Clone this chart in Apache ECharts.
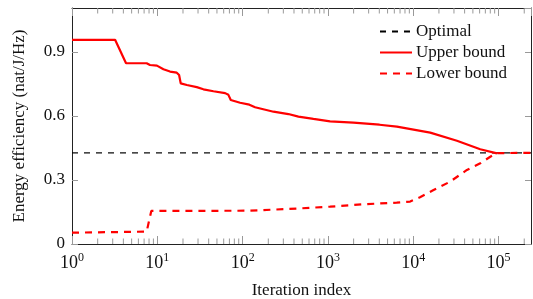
<!DOCTYPE html>
<html>
<head>
<meta charset="utf-8">
<script src="https://cdn.jsdelivr.net/npm/echarts@6/dist/echarts.min.js"></script>
<style>
  html, body { margin: 0; padding: 0; background: #fff; }
  #chart { width: 533px; height: 299px; }
</style>
</head>
<body>
<div id="chart"></div>
<script>
// axis ranges and ticks
const xMin = 1;
const xMax = 240000;
const yMin = 0;
const yMax = 1.106;
const yTicks = [0, 0.3, 0.6, 0.9];
const xDecades = [0, 1, 2, 3, 4, 5];

// optimal value
const optimalEE = 0.427;

// upper bound (iteration, energy efficiency)
const upperIter = [1, 3.2, 4.3, 7.5, 8.2, 9.9, 11.8, 14.1, 16.9, 18.0, 18.8, 22.2, 29, 34.7, 45.5, 62.3, 68.1, 72.6, 93.4, 120, 140, 230, 344, 451, 676, 1060, 1990, 4020, 6430, 15800, 32500, 61000, 95800];
const upperEE = [0.957, 0.957, 0.847, 0.847, 0.839, 0.836, 0.819, 0.808, 0.803, 0.792, 0.753, 0.745, 0.735, 0.725, 0.716, 0.707, 0.699, 0.675, 0.662, 0.653, 0.641, 0.620, 0.609, 0.597, 0.586, 0.575, 0.569, 0.559, 0.550, 0.522, 0.484, 0.444, 0.425];

// lower bound
const lowerIter = [1, 7.5, 8.5, 120, 430, 1060, 2600, 6400, 9200, 12000, 17300, 27000, 42600, 61000, 80000, 95000, 240000];
const lowerEE = [0.053, 0.058, 0.155, 0.156, 0.166, 0.175, 0.186, 0.194, 0.199, 0.219, 0.253, 0.292, 0.347, 0.378, 0.409, 0.426, 0.427];

const font = '"Liberation Serif", "Times New Roman", serif';

// minor tick positions on the log axis (2..9 x 10^n)
const minorTicks = [];
xDecades.forEach(p => {
  for (let k = 2; k <= 9; k++) {
    const v = k * Math.pow(10, p);
    if (v < xMax) minorTicks.push([v, 0]);
  }
});

const zip = (a, b) => a.map((v, i) => [v, b[i]]);

const chart = echarts.init(document.getElementById("chart"));

const xAxisBase = {
  type: "log",
  logBase: 10,
  min: xMin,
  max: xMax,
  splitLine: { show: false },
  axisLine: { onZero: false, lineStyle: { color: "#222", width: 1 } },
  axisTick: { inside: true, length: 8, lineStyle: { color: "#999" } },
  minorTick: { show: false }
};

const yAxisBase = {
  type: "value",
  min: yMin,
  max: yMax,
  interval: 0.3,
  splitLine: { show: false },
  axisLine: { show: true, lineStyle: { color: "#222", width: 1 } },
  axisTick: { inside: true, length: 6, lineStyle: { color: "#999" } }
};

chart.setOption({
  animation: false,
  grid: { left: 72, right: 2, top: 8, bottom: 55, containLabel: false, outerBoundsMode: "none" },
  legend: {
    data: ["Optimal", "Upper bound", "Lower bound"],
    orient: "vertical",
    left: 374,
    top: 18,
    itemWidth: 32,
    itemHeight: 14,
    itemGap: 4,
    itemStyle: { opacity: 0 },
    textStyle: { fontFamily: font, fontSize: 17, color: "#111", padding: [0, 0, 0, -1] }
  },
  xAxis: [
    Object.assign({}, xAxisBase, {
      position: "bottom",
      name: "Iteration index",
      nameLocation: "middle",
      nameGap: 38,
      nameTextStyle: { fontFamily: font, fontSize: 17, color: "#111" },
      axisLabel: {
        showMaxLabel: false,
        margin: 8,
        formatter: v => "{b|10}{s|" + Math.round(Math.log10(v)) + "}",
        rich: {
          b: { fontFamily: font, fontSize: 18, color: "#111", lineHeight: 20, verticalAlign: "bottom" },
          s: { fontFamily: font, fontSize: 12, color: "#111", lineHeight: 20, verticalAlign: "top", padding: [0, 0, 6, 0] }
        }
      }
    }),
    Object.assign({}, xAxisBase, {
      position: "top",
      axisLabel: { show: false }
    })
  ],
  yAxis: [
    Object.assign({}, yAxisBase, {
      position: "left",
      name: "Energy efficiency (nat/J/Hz)",
      nameLocation: "middle",
      nameGap: 44,
      nameTextStyle: { fontFamily: font, fontSize: 17, color: "#111" },
      axisLabel: {
        showMaxLabel: false,
        margin: 7,
        fontFamily: font,
        fontSize: 17,
        color: "#111",
        formatter: v => (v === 0 ? "0" : v.toFixed(1))
      }
    }),
    Object.assign({}, yAxisBase, {
      position: "right",
      axisLabel: { show: false }
    })
  ],
  series: [
    {
      name: "Optimal",
      type: "line",
      data: [[xMin, optimalEE], [xMax, optimalEE]],
      symbol: "none",
      lineStyle: { color: "#000", width: 1.2, type: [6, 6] },
      itemStyle: { color: "#000" },
      z: 2
    },
    {
      name: "Upper bound",
      type: "line",
      data: zip(upperIter, upperEE),
      symbol: "none",
      lineStyle: { color: "#ff0000", width: 2.2 },
      itemStyle: { color: "#ff0000" },
      z: 3
    },
    {
      name: "Lower bound",
      type: "line",
      data: zip(lowerIter, lowerEE),
      symbol: "none",
      lineStyle: { color: "#ff0000", width: 2.2, type: [7, 6] },
      itemStyle: { color: "#ff0000" },
      z: 3
    },
    {
      type: "custom",
      silent: true,
      data: minorTicks,
      clip: false,
      z: 1,
      renderItem: (params, api) => {
        const b = api.coord([api.value(0), yMin]);
        const t = api.coord([api.value(0), yMax]);
        const st = { stroke: "#999", lineWidth: 1 };
        return {
          type: "group",
          children: [
            { type: "line", shape: { x1: b[0], y1: b[1], x2: b[0], y2: b[1] - 5.5 }, style: st },
            { type: "line", shape: { x1: t[0], y1: t[1], x2: t[0], y2: t[1] + 5.5 }, style: st }
          ]
        };
      }
    }
  ]
});
</script>
</body>
</html>
